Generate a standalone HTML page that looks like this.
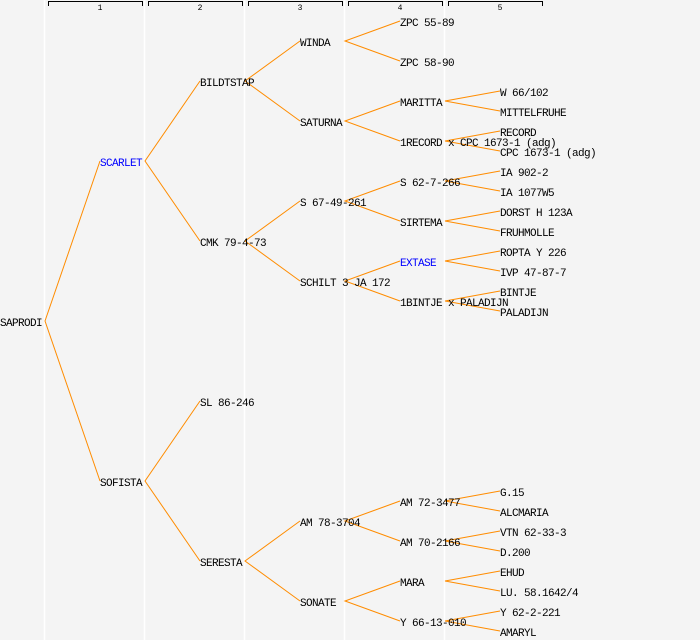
<!DOCTYPE html>
<html><head><meta charset="utf-8"><style>
html,body{margin:0;padding:0;background:#f4f4f4;}
svg{display:block;}
text{font-family:"Liberation Mono","DejaVu Sans Mono",monospace;font-size:11px;letter-spacing:-0.6px;fill:#000;}
.b{fill:#0000ff;}
.h{font-size:8px;letter-spacing:0;}
</style></head><body>
<svg width="700" height="640" viewBox="0 0 700 640" xmlns="http://www.w3.org/2000/svg">
<rect width="700" height="640" fill="#f4f4f4"/>
<g stroke="#ffffff" stroke-width="1.5">
<line x1="44.5" y1="0" x2="44.5" y2="640"/><line x1="144.5" y1="0" x2="144.5" y2="640"/>
<line x1="244.5" y1="0" x2="244.5" y2="640"/><line x1="344.5" y1="0" x2="344.5" y2="640"/>
<line x1="444.5" y1="0" x2="444.5" y2="640"/>
</g>
<g stroke="#000" stroke-width="1" fill="none">
<path d="M48.5 6V1.5H142.5V6"/><path d="M148.5 6V1.5H242.5V6"/><path d="M248.5 6V1.5H342.5V6"/>
<path d="M348.5 6V1.5H442.5V6"/><path d="M448.5 6V1.5H542.5V6"/>
</g>
<text class="h" x="100" y="10" text-anchor="middle">1</text>
<text class="h" x="200" y="10" text-anchor="middle">2</text>
<text class="h" x="300" y="10" text-anchor="middle">3</text>
<text class="h" x="400" y="10" text-anchor="middle">4</text>
<text class="h" x="500" y="10" text-anchor="middle">5</text>
<g stroke="#ff8c00" stroke-width="1" fill="none">
<path d="M100 161L45 321L100 481"/>
<path d="M200 81L145 161L200 241"/>
<path d="M200 401L145 481L200 561"/>
<path d="M300 41L245 81L300 121"/>
<path d="M300 201L245 241L300 281"/>
<path d="M300 521L245 561L300 601"/>
<path d="M400 21L345 41L400 61"/>
<path d="M400 101L345 121L400 141"/>
<path d="M400 181L345 201L400 221"/>
<path d="M400 261L345 281L400 301"/>
<path d="M400 501L345 521L400 541"/>
<path d="M400 581L345 601L400 621"/>
<path d="M500 91L445 101L500 111"/>
<path d="M500 131L445 141L500 151"/>
<path d="M500 171L445 181L500 191"/>
<path d="M500 211L445 221L500 231"/>
<path d="M500 251L445 261L500 271"/>
<path d="M500 291L445 301L500 311"/>
<path d="M500 491L445 501L500 511"/>
<path d="M500 531L445 541L500 551"/>
<path d="M500 571L445 581L500 591"/>
<path d="M500 611L445 621L500 631"/>
</g>
<text x="0" y="326">SAPRODI</text>
<text class="b" x="100" y="166">SCARLET</text>
<text x="100" y="486">SOFISTA</text>
<text x="200" y="86">BILDTSTAP</text>
<text x="200" y="246">CMK 79-4-73</text>
<text x="200" y="406">SL 86-246</text>
<text x="200" y="566">SERESTA</text>
<text x="300" y="46">WINDA</text>
<text x="300" y="126">SATURNA</text>
<text x="300" y="206">S 67-49-261</text>
<text x="300" y="286">SCHILT 3 JA 172</text>
<text x="300" y="526">AM 78-3704</text>
<text x="300" y="606">SONATE</text>
<text x="400" y="26">ZPC 55-89</text>
<text x="400" y="66">ZPC 58-90</text>
<text x="400" y="106">MARITTA</text>
<text x="400" y="146">1RECORD x CPC 1673-1 (adg)</text>
<text x="400" y="186">S 62-7-266</text>
<text x="400" y="226">SIRTEMA</text>
<text class="b" x="400" y="266">EXTASE</text>
<text x="400" y="306">1BINTJE x PALADIJN</text>
<text x="400" y="506">AM 72-3477</text>
<text x="400" y="546">AM 70-2166</text>
<text x="400" y="586">MARA</text>
<text x="400" y="626">Y 66-13-010</text>
<text x="500" y="96">W 66/102</text>
<text x="500" y="116">MITTELFRUHE</text>
<text x="500" y="136">RECORD</text>
<text x="500" y="156">CPC 1673-1 (adg)</text>
<text x="500" y="176">IA 902-2</text>
<text x="500" y="196">IA 1077W5</text>
<text x="500" y="216">DORST H 123A</text>
<text x="500" y="236">FRUHMOLLE</text>
<text x="500" y="256">ROPTA Y 226</text>
<text x="500" y="276">IVP 47-87-7</text>
<text x="500" y="296">BINTJE</text>
<text x="500" y="316">PALADIJN</text>
<text x="500" y="496">G.15</text>
<text x="500" y="516">ALCMARIA</text>
<text x="500" y="536">VTN 62-33-3</text>
<text x="500" y="556">D.200</text>
<text x="500" y="576">EHUD</text>
<text x="500" y="596">LU. 58.1642/4</text>
<text x="500" y="616">Y 62-2-221</text>
<text x="500" y="636">AMARYL</text>
</svg>
</body></html>
